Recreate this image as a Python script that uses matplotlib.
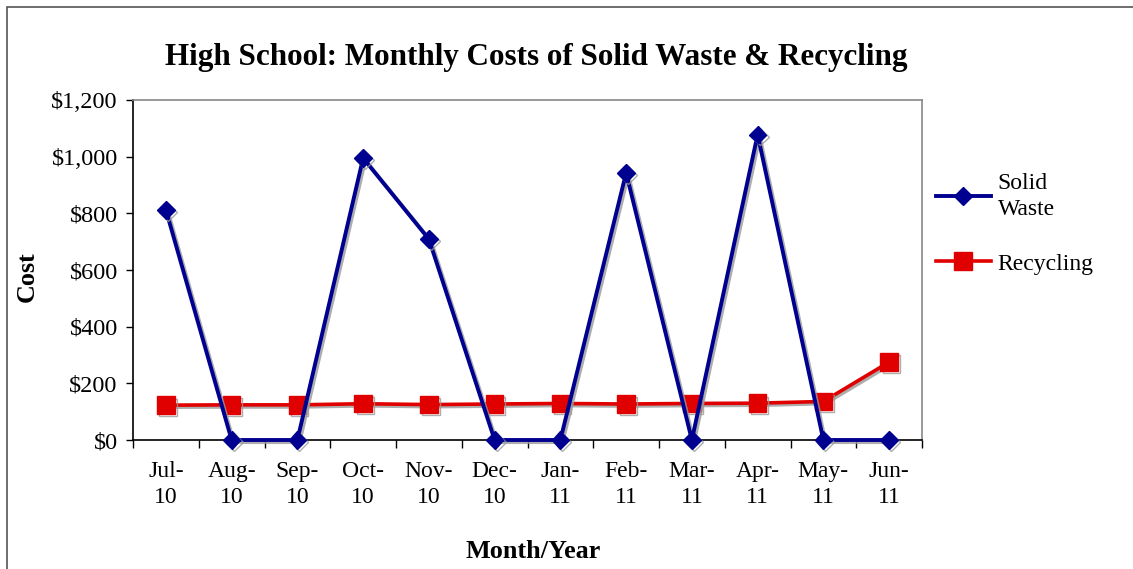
import matplotlib
matplotlib.use("Agg")
import matplotlib.pyplot as plt
import matplotlib.patheffects as pe
from matplotlib.patches import Rectangle

months = ["Jul-\n10", "Aug-\n10", "Sep-\n10", "Oct-\n10", "Nov-\n10", "Dec-\n10",
          "Jan-\n11", "Feb-\n11", "Mar-\n11", "Apr-\n11", "May-\n11", "Jun-\n11"]
solid_waste = [812, 0, 0, 995, 709, 0, 0, 943, 0, 1078, 0, 0]
recycling = [123, 124, 124, 128, 125, 127, 129, 127, 129, 130, 136, 275]
yticks = [0, 200, 400, 600, 800, 1000, 1200]

plt.rcParams['font.family'] = ['Liberation Serif', 'DejaVu Serif']

fig = plt.figure(figsize=(11.33, 5.69), dpi=100)
ax = fig.add_axes([133/1133, 1-440/569, (922-133)/1133, 340/569])

# outer chart border (left + top visible)
fig.patches.append(Rectangle((7/1133, -0.1), 1.2, (1-7/569)+0.1, transform=fig.transFigure,
                             fill=False, edgecolor='#555555', linewidth=1.2, zorder=0))

x = list(range(len(months)))
shadow = [pe.SimpleLineShadow(offset=(1.5, -1.5), shadow_color='#999999', alpha=0.8), pe.Normal()]
l1, = ax.plot(x, solid_waste, color='#000090', linewidth=2.8, marker='D', markersize=9,
              markerfacecolor='#000090', markeredgecolor='#000090', path_effects=shadow, zorder=4,
              clip_on=False)
l2, = ax.plot(x, recycling, color='#E00000', linewidth=2.6, marker='s', markersize=12.5,
              markerfacecolor='#E00000', markeredgecolor='#E00000', path_effects=shadow, zorder=3,
              clip_on=False)

ax.set_xlim(-0.5, len(months) - 0.5)
ax.set_ylim(0, 1200)
ax.set_yticks(yticks)
ax.set_yticklabels(["${:,}".format(v) for v in yticks])
ax.set_xticks([i - 0.5 for i in range(len(months) + 1)])
ax.set_xticklabels([])
ax.set_xticks(x, minor=True)
ax.set_xticklabels(months, minor=True)
ax.tick_params(axis='x', which='minor', length=0, labelsize=17, pad=15)
ax.tick_params(axis='x', which='major', length=6, width=1, direction='out')
ax.tick_params(axis='y', length=5, width=1, direction='out', labelsize=17.5, pad=6)
for lab in ax.get_xticklabels(minor=True):
    lab.set_linespacing(1.3)

ax.spines['left'].set_color('black')
ax.spines['bottom'].set_color('black')
ax.spines['top'].set_color('#888888')
ax.spines['right'].set_color('#888888')
for s in ax.spines.values():
    s.set_linewidth(1.2)

fig.text(536/1133, 1-58/569, "High School: Monthly Costs of Solid Waste & Recycling",
         ha='center', va='center', fontsize=22.4, fontweight='bold')
fig.text(533/1133, 1-551/569, "Month/Year", ha='center', va='center', fontsize=18.8, fontweight='bold')
fig.text(27/1133, 1-277/569, "Cost", ha='center', va='center', fontsize=18.8, fontweight='bold',
         rotation=90)

leg = fig.legend([l1, l2], ["Solid\nWaste", "Recycling"], loc='upper left',
                 bbox_to_anchor=(915/1133, 1-152/569), frameon=False, fontsize=17,
                 handlelength=2.3, handletextpad=0.3, labelspacing=1.4)
for t in leg.get_texts():
    t.set_linespacing(1.3)
for h in leg.legend_handles:
    h.set_path_effects([])

fig.savefig("out.png", dpi=100)
